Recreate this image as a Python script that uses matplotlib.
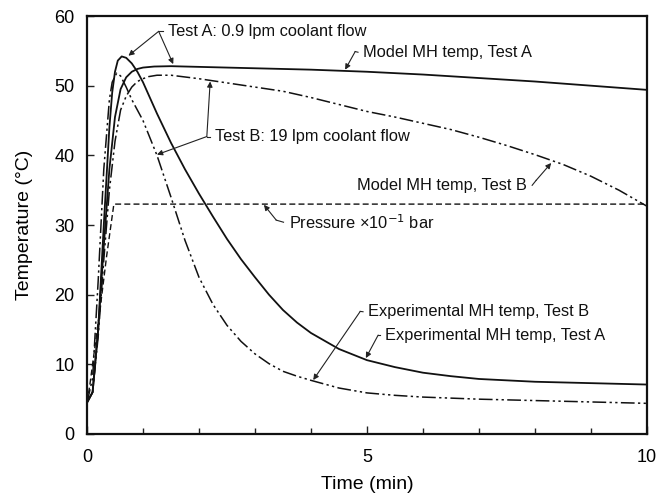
import numpy as np
import matplotlib.pyplot as plt

# values (time in min, temperature in deg C)
t_exp_a = [0, 0.1, 0.2, 0.3, 0.4, 0.45, 0.5, 0.55, 0.62, 0.7, 0.8, 0.9, 1.0, 1.25, 1.5, 1.75, 2.0, 2.25,
           2.5, 2.75, 3.0, 3.25, 3.5, 3.75, 4.0, 4.5, 5.0, 5.5, 6.0, 6.5, 7.0, 8.0, 9.0, 10.0]
T_exp_a = [4.5, 6, 15, 30, 44, 49, 52, 53.6, 54.2, 54.0, 53.2, 52.0, 50.5, 46, 41.8, 38, 34.5, 31.2,
           28, 25.1, 22.5, 20.0, 17.8, 16.0, 14.5, 12.2, 10.6, 9.6, 8.8, 8.3, 7.9, 7.5, 7.3, 7.1]

t_exp_b = [0, 0.1, 0.2, 0.3, 0.4, 0.45, 0.53, 0.6, 0.7, 0.8, 1.0, 1.25, 1.5, 1.75, 2.0, 2.25, 2.5, 2.75,
           3.0, 3.25, 3.5, 3.75, 4.0, 4.5, 5.0, 5.5, 6.0, 7.0, 8.0, 9.0, 10.0]
T_exp_b = [4.5, 8, 22, 38, 48, 50.5, 51.8, 51.4, 49.8, 48, 45, 40, 34, 27.8, 22.5, 18.6, 15.6, 13.3,
           11.5, 10.1, 9.0, 8.3, 7.7, 6.6, 5.9, 5.55, 5.3, 5.0, 4.8, 4.6, 4.4]

t_mod_a = [0, 0.1, 0.2, 0.3, 0.4, 0.5, 0.6, 0.7, 0.8, 0.9, 1.0, 1.2, 1.5, 2, 3, 4, 5, 6, 7, 8, 9, 10]
T_mod_a = [4.5, 6, 15, 27, 38, 45.5, 49.5, 51.2, 52.0, 52.4, 52.6, 52.75, 52.8, 52.7, 52.5, 52.3, 52.0,
           51.6, 51.1, 50.6, 50.0, 49.4]

t_mod_b = [0, 0.1, 0.2, 0.3, 0.4, 0.5, 0.6, 0.7, 0.8, 0.9, 1.0, 1.1, 1.25, 1.5, 2, 2.5, 3, 3.5, 4, 4.5,
           5, 5.5, 6, 6.5, 7, 7.5, 8, 8.5, 9, 9.5, 10]
T_mod_b = [4.5, 6, 14, 25, 35, 42, 46.5, 48.5, 49.8, 50.6, 51, 51.3, 51.5, 51.5, 51, 50.4, 49.8, 49.2,
           48.3, 47.3, 46.3, 45.5, 44.6, 43.7, 42.6, 41.4, 40.1, 38.7, 37, 35, 32.7]

t_press = [0, 0.05, 0.15, 0.25, 0.35, 0.48, 10]
P_press = [4.5, 7, 13, 19, 25.5, 33, 33]

plt.rcParams['font.family'] = ['Liberation Sans', 'DejaVu Sans']

fig = plt.figure(figsize=(6.58, 4.96), dpi=100)
ax = fig.add_axes([0.1322, 0.125, 0.851, 0.8427])

ddot = (0, (9, 2.2, 1.5, 2.2, 1.5, 2.2))
ax.plot(t_exp_a, T_exp_a, color='#111111', lw=1.3)
ax.plot(t_mod_a, T_mod_a, color='#111111', lw=1.3)
ax.plot(t_exp_b, T_exp_b, color='#111111', lw=1.1, linestyle=ddot)
ax.plot(t_mod_b, T_mod_b, color='#111111', lw=1.1, linestyle=ddot)
ax.plot(t_press, P_press, color='#111111', lw=1.0, linestyle=(0, (4.3, 2.3)))

ax.set_xlim(0, 10)
ax.set_ylim(0, 60)
ax.set_xticks([0, 5, 10])
ax.set_xticks(np.arange(0, 11, 1), minor=True)
ax.set_yticks(np.arange(0, 61, 10))
ax.tick_params(axis='both', which='both', direction='in', labelsize=13, color='#222222')
ax.tick_params(axis='x', which='major', length=6, width=1.0, pad=11)
ax.tick_params(axis='x', which='minor', length=4, width=1.0)
ax.tick_params(axis='y', which='major', length=5, width=1.0, pad=9)
for s in ax.spines.values():
    s.set_linewidth(1.6)
    s.set_color('#111111')

ax.set_xlabel('Time (min)', fontsize=14, labelpad=7)
ax.set_ylabel('Temperature (°C)', fontsize=14, labelpad=15)

fs = 11.8
arr = dict(arrowstyle='-|>', color='#222222', lw=0.8, mutation_scale=8, shrinkA=0, shrinkB=0)

def leader(text, txy, knee, tips, ha='left'):
    ax.text(txy[0], txy[1], text, fontsize=fs, ha=ha, va='center', color='#111111')
    start = (txy[0] - 0.09, txy[1]) if ha == 'left' else (txy[0] + 0.09, txy[1])
    ax.plot([start[0], knee[0]], [start[1], knee[1]], color='#222222', lw=0.8)
    for tip in tips:
        ax.annotate('', xy=tip, xytext=knee, arrowprops=arr)

leader('Test A: 0.9 lpm coolant flow', (1.45, 57.8), (1.28, 57.8), [(0.74, 54.3), (1.54, 53.1)])
leader('Test B: 19 lpm coolant flow', (2.29, 42.7), (2.14, 42.7), [(2.2, 50.6), (1.25, 40.1)])
leader('Model MH temp, Test A', (4.93, 54.8), (4.79, 54.9), [(4.61, 52.3)])
leader('Model MH temp, Test B', (7.86, 35.7), (8.02, 36.4), [(8.29, 38.9)], ha='right')
leader('Pressure ×10$^{-1}$ bar', (3.6, 30.4), (3.38, 30.7), [(3.16, 32.9)])
leader('Experimental MH temp, Test B', (5.02, 17.55), (4.88, 17.6), [(4.04, 7.75)])
leader('Experimental MH temp, Test A', (5.32, 14.2), (5.2, 14.2), [(4.98, 10.9)])

fig.savefig('out.png', dpi=100)
